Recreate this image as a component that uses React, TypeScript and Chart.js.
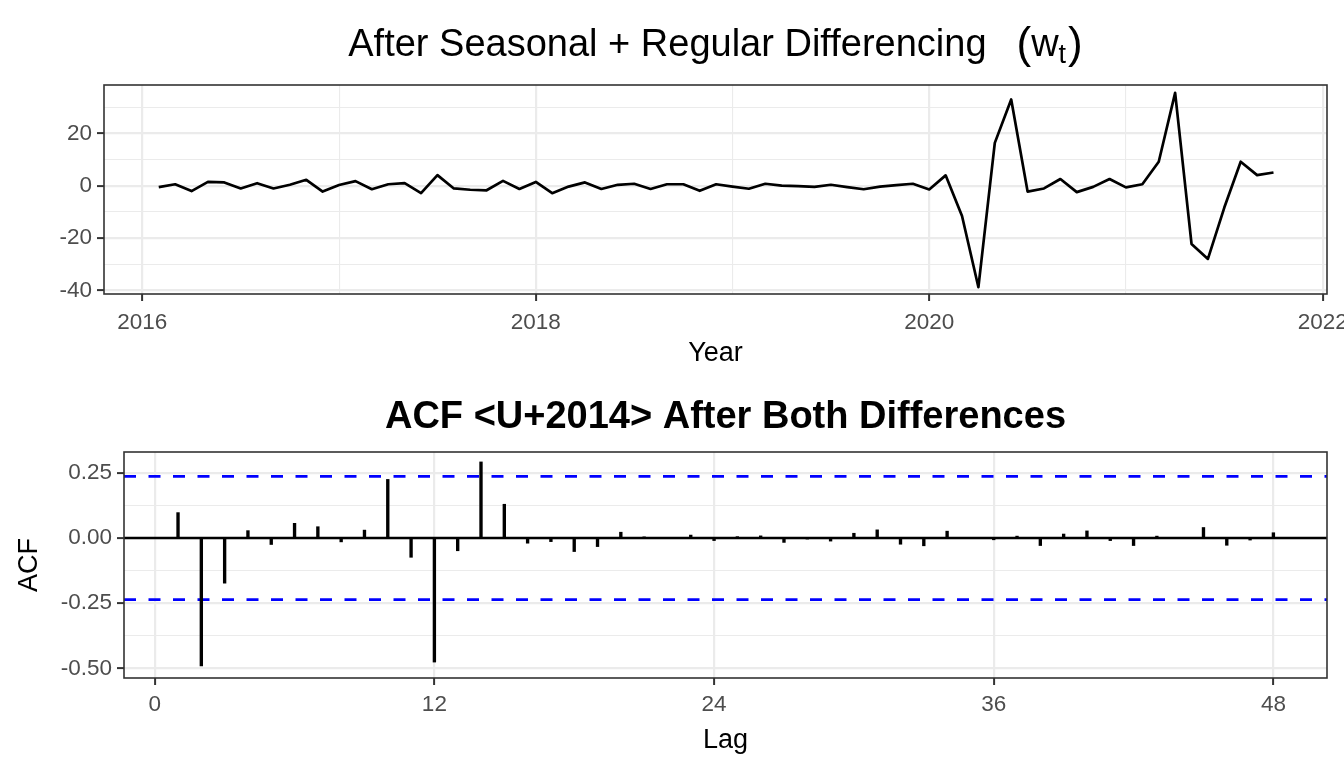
import React, { useEffect, useRef } from "react";
import { Chart, registerables } from "chart.js";

Chart.register(...registerables);

const FONT = "'Liberation Sans', Arial, Helvetica, sans-serif";

// ---- Top panel data: w_t, monthly from Feb 2016 to Oct 2021 ----
const startYear = 2016;
const startMonth = 2; // February
const wt: number[] = [
  // 2016 Feb..Dec
  -0.5, 0.6, -2.0, 1.5, 1.3, -1.0, 1.0, -1.0, 0.4, 2.3, -2.2,
  // 2017
  0.3, 1.8, -1.3, 0.6, 1.0, -2.8, 4.1, -1.0, -1.5, -1.7, 1.9, -1.2,
  // 2018
  1.5, -2.8, -0.3, 1.3, -1.2, 0.4, 0.8, -1.2, 0.6, 0.6, -1.9, 0.6,
  // 2019
  -0.3, -1.1, 0.8, 0.1, -0.1, -0.4, 0.4, -0.5, -1.3, -0.3, 0.3, 0.8,
  // 2020
  -1.4, 4.0, -11.5, -38.7, 16.4, 33.0, -2.2, -1.0, 2.6, -2.4, -0.4, 2.6,
  // 2021 Jan..Oct
  -0.6, 0.6, 9.2, 35.5, -22.2, -27.9, -8.3, 9.2, 4.1, 5.1,
];
const timeValues: number[] = wt.map((_, i) => startYear + (startMonth - 1 + i) / 12);

const yearTicks = [2016, 2017, 2018, 2019, 2020, 2021, 2022];
const wtTicks = [-40, -30, -20, -10, 0, 10, 20, 30];

// ---- Bottom panel data: ACF by lag ----
const lags: number[] = Array.from({ length: 48 }, (_, i) => i + 1);
const acfValues: number[] = [
  0.097, -0.49, -0.173, 0.028, -0.025, 0.056, 0.043, -0.015, 0.03, 0.224, -0.074, -0.475,
  -0.049, 0.291, 0.129, -0.02, -0.014, -0.052, -0.033, 0.022, 0.002, 0.0, 0.011, -0.01,
  0.005, 0.008, -0.017, -0.003, -0.012, 0.018, 0.031, -0.024, -0.03, 0.026, 0.0, -0.007,
  0.007, -0.029, 0.015, 0.027, -0.01, -0.029, 0.007, 0.0, 0.04, -0.028, -0.008, 0.02,
];
const confLimit = 0.236;
const lagTicks = [0, 12, 24, 36, 48];
const acfTicks = [-0.5, -0.375, -0.25, -0.125, 0, 0.125, 0.25];

const GRID = "#EBEBEB";
const TICK_TEXT = "#4D4D4D";
const AXIS_LINE = "#333333";

function gridOpts(isMajor: (v: number) => boolean) {
  return {
    color: GRID,
    lineWidth: (c: any) => (isMajor(c.tick?.value) ? 2.2 : 1.1),
    tickColor: (c: any) => (isMajor(c.tick?.value) ? AXIS_LINE : "rgba(0,0,0,0)"),
    tickWidth: 2,
    tickLength: 7,
    drawTicks: true,
    drawOnChartArea: true,
  };
}

function borderPlugin(id: string) {
  return {
    id,
    afterDraw(chart: any) {
      const { ctx, chartArea } = chart;
      ctx.save();
      ctx.strokeStyle = AXIS_LINE;
      ctx.lineWidth = 1.6;
      ctx.strokeRect(chartArea.left, chartArea.top, chartArea.right - chartArea.left, chartArea.bottom - chartArea.top);
      ctx.restore();
    },
  };
}

const topTextPlugin = {
  id: "topText",
  afterDraw(chart: any) {
    const ctx = chart.ctx as CanvasRenderingContext2D;
    const ca = chart.chartArea;
    const cx = (ca.left + ca.right) / 2;
    ctx.save();
    ctx.fillStyle = "#000";
    ctx.textBaseline = "alphabetic";
    ctx.textAlign = "left";
    const mainFont = `38px ${FONT}`;
    const parenFont = `44px ${FONT}`;
    const subFont = `27px ${FONT}`;
    const main = "After Seasonal + Regular Differencing";
    const gap = 30;
    ctx.font = mainFont;
    const wMain = ctx.measureText(main).width;
    const wW = ctx.measureText("w").width;
    ctx.font = parenFont;
    const wOpen = ctx.measureText("(").width;
    const wClose = ctx.measureText(")").width;
    ctx.font = subFont;
    const wSub = ctx.measureText("t").width;
    const total = wMain + gap + wOpen + wW + wSub + wClose + 2;
    let x = cx - total / 2;
    const base = 56;
    ctx.font = mainFont;
    ctx.fillText(main, x, base);
    x += wMain + gap;
    ctx.font = parenFont;
    ctx.fillText("(", x, base + 2);
    x += wOpen;
    ctx.font = mainFont;
    ctx.fillText("w", x, base);
    x += wW;
    ctx.font = subFont;
    ctx.fillText("t", x, base + 7);
    x += wSub + 2;
    ctx.font = parenFont;
    ctx.fillText(")", x, base + 2);
    // x-axis title
    ctx.font = `27px ${FONT}`;
    ctx.textAlign = "center";
    ctx.fillText("Year", cx, 361);
    ctx.restore();
  },
};

const bottomTextPlugin = {
  id: "bottomText",
  afterDraw(chart: any) {
    const ctx = chart.ctx as CanvasRenderingContext2D;
    const ca = chart.chartArea;
    const cx = (ca.left + ca.right) / 2;
    const cy = (ca.top + ca.bottom) / 2;
    ctx.save();
    ctx.fillStyle = "#000";
    ctx.textBaseline = "alphabetic";
    ctx.textAlign = "center";
    ctx.font = `bold 38px ${FONT}`;
    ctx.fillText("ACF <U+2014> After Both Differences", cx, 44);
    ctx.font = `27px ${FONT}`;
    ctx.fillText("Lag", cx, 364);
    ctx.translate(37, cy);
    ctx.rotate(-Math.PI / 2);
    ctx.fillText("ACF", 0, 0);
    ctx.restore();
  },
};

export default function App() {
  const topRef = useRef<HTMLCanvasElement>(null);
  const botRef = useRef<HTMLCanvasElement>(null);

  useEffect(() => {
    const isMajorYear = (v: number) => v != null && Math.round(v) % 2 === 0;
    const isMajorWt = (v: number) => v != null && Math.round(v) % 20 === 0;
    const topChart = new Chart(topRef.current as HTMLCanvasElement, {
      type: "line",
      data: {
        datasets: [
          {
            data: wt.map((v, i) => ({ x: timeValues[i], y: v })),
            borderColor: "#000000",
            borderWidth: 2.7,
            pointRadius: 0,
            tension: 0,
            borderJoinStyle: "round",
            fill: false,
          } as any,
        ],
      },
      options: {
        animation: false,
        responsive: false,
        devicePixelRatio: 1,
        layout: { padding: { top: 85, right: 17, left: 0, bottom: 0 } },
        plugins: { legend: { display: false }, tooltip: { enabled: false }, title: { display: false } },
        scales: {
          x: {
            type: "linear",
            min: 2015.805,
            max: 2022.022,
            afterBuildTicks: (s: any) => {
              s.ticks = yearTicks.map((v) => ({ value: v }));
            },
            afterFit: (s: any) => {
              s.height = 90;
              s.paddingLeft = 0;
              s.paddingRight = 0;
            },
            ticks: {
              autoSkip: false,
              maxRotation: 0,
              padding: 8,
              color: TICK_TEXT,
              font: { family: FONT, size: 22.5 },
              callback: (v: any) => (isMajorYear(Number(v)) ? String(v) : ""),
            },
            grid: gridOpts(isMajorYear) as any,
            border: { display: false },
          },
          y: {
            type: "linear",
            min: -41.3,
            max: 38.5,
            afterBuildTicks: (s: any) => {
              s.ticks = wtTicks.map((v) => ({ value: v }));
            },
            afterFit: (s: any) => {
              s.width = 104;
              s.paddingTop = 0;
              s.paddingBottom = 0;
            },
            ticks: {
              autoSkip: false,
              padding: 5,
              color: TICK_TEXT,
              font: { family: FONT, size: 22.5 },
              callback: (v: any) => (isMajorWt(Number(v)) ? String(v) : ""),
            },
            grid: gridOpts(isMajorWt) as any,
            border: { display: false },
          },
        },
      },
      plugins: [borderPlugin("topBorder"), topTextPlugin],
    });

    const xMin = -1.318;
    const xMax = 50.3;
    const isMajorLag = (v: number) => v != null && Math.round(v) % 12 === 0;
    const isMajorAcf = (v: number) => v != null && Math.abs(v * 4 - Math.round(v * 4)) < 1e-6;
    const botChart = new Chart(botRef.current as HTMLCanvasElement, {
      type: "bar",
      data: {
        datasets: [
          {
            type: "line",
            data: [
              { x: xMin, y: confLimit },
              { x: xMax, y: confLimit },
            ],
            borderColor: "#0000FF",
            borderWidth: 2.8,
            borderDash: [12, 12.5],
            pointRadius: 0,
            order: 3,
          } as any,
          {
            type: "line",
            data: [
              { x: xMin, y: -confLimit },
              { x: xMax, y: -confLimit },
            ],
            borderColor: "#0000FF",
            borderWidth: 2.8,
            borderDash: [12, 12.5],
            pointRadius: 0,
            order: 3,
          } as any,
          {
            type: "line",
            data: [
              { x: xMin, y: 0 },
              { x: xMax, y: 0 },
            ],
            borderColor: "#000000",
            borderWidth: 2.5,
            pointRadius: 0,
            order: 2,
          } as any,
          {
            type: "bar",
            data: lags.map((l, i) => ({ x: l, y: acfValues[i] })),
            backgroundColor: "#000000",
            borderWidth: 0,
            barThickness: 2.7,
            grouped: false,
            order: 1,
          } as any,
        ],
      },
      options: {
        animation: false,
        responsive: false,
        devicePixelRatio: 1,
        layout: { padding: { top: 68, right: 17, left: 0, bottom: 0 } },
        plugins: { legend: { display: false }, tooltip: { enabled: false }, title: { display: false } },
        scales: {
          x: {
            type: "linear",
            min: xMin,
            max: xMax,
            offset: false,
            afterBuildTicks: (s: any) => {
              s.ticks = lagTicks.map((v) => ({ value: v }));
            },
            afterFit: (s: any) => {
              s.height = 90;
              s.paddingLeft = 0;
              s.paddingRight = 0;
            },
            ticks: {
              autoSkip: false,
              maxRotation: 0,
              padding: 6,
              color: TICK_TEXT,
              font: { family: FONT, size: 22.5 },
              callback: (v: any) => String(v),
            },
            grid: { ...(gridOpts(isMajorLag) as any), offset: false },
            border: { display: false },
          },
          y: {
            type: "linear",
            min: -0.536,
            max: 0.329,
            afterBuildTicks: (s: any) => {
              s.ticks = acfTicks.map((v) => ({ value: v }));
            },
            afterFit: (s: any) => {
              s.width = 124;
              s.paddingTop = 0;
              s.paddingBottom = 0;
            },
            ticks: {
              autoSkip: false,
              padding: 5,
              color: TICK_TEXT,
              font: { family: FONT, size: 22.5 },
              callback: (v: any) => (isMajorAcf(Number(v)) ? Number(v).toFixed(2) : ""),
            },
            grid: gridOpts(isMajorAcf) as any,
            border: { display: false },
          },
        },
      },
      plugins: [borderPlugin("botBorder"), bottomTextPlugin],
    });

    return () => {
      topChart.destroy();
      botChart.destroy();
    };
  }, []);

  return (
    <div style={{ position: "fixed", left: 0, top: 0, width: 1344, height: 768, background: "#ffffff" }}>
      <canvas ref={topRef} width={1344} height={384} style={{ position: "absolute", left: 0, top: 0, width: 1344, height: 384 }} />
      <canvas ref={botRef} width={1344} height={384} style={{ position: "absolute", left: 0, top: 384, width: 1344, height: 384 }} />
    </div>
  );
}
